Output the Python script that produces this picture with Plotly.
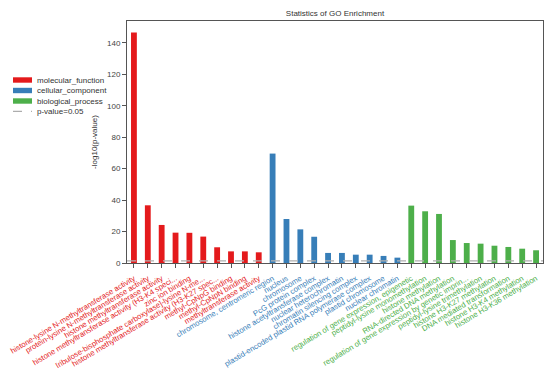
import math
import plotly.graph_objects as go

mf_terms = [
    "histone-lysine N-methyltransferase activity",
    "protein-lysine N-methyltransferase activity",
    "histone methyltransferase activity",
    "histone methyltransferase activity (H3-K4 speci...",
    "zinc ion binding",
    "[ribulose-bisphosphate carboxylase]-lysine N-me...",
    "histone methyltransferase activity (H3-K27 spec...",
    "methyl-CpNpG binding",
    "methyl-CpNpN binding",
    "methyltransferase activity",
]
mf_values = [146.6, 36.7, 24.2, 19.3, 19.2, 16.8, 10.0, 7.4, 7.4, 6.8]

cc_terms = [
    "chromosome, centromeric region",
    "nucleus",
    "chromosome",
    "PcG protein complex",
    "histone acetyltransferase complex",
    "nuclear heterochromatin",
    "chromatin silencing complex",
    "plastid-encoded plastid RNA polymerase complex",
    "plastid chromosome",
    "nuclear chromatin",
]
cc_values = [69.6, 28.0, 21.4, 16.7, 6.4, 6.4, 5.3, 5.3, 4.5, 3.4]

bp_terms = [
    "regulation of gene expression, epigenetic",
    "peptidyl-lysine monomethylation",
    "histone methylation",
    "RNA-directed DNA methylation",
    "regulation of gene expression by genetic imprin...",
    "peptidyl-lysine trimethylation",
    "histone H3-K27 methylation",
    "DNA mediated transformation",
    "histone H3-K4 methylation",
    "histone H3-K36 methylation",
]
bp_values = [36.5, 32.9, 31.2, 14.6, 12.7, 12.3, 11.0, 10.2, 9.1, 8.1]

p_cutoff = 0.05
colors = {"molecular_function": "#E41A1C", "cellular_component": "#377EB8",
          "biological_process": "#4DAF4A"}

groups = [("molecular_function", mf_terms, mf_values),
          ("cellular_component", cc_terms, cc_values),
          ("biological_process", bp_terms, bp_values)]

FONT = "Arial, Liberation Sans, sans-serif"
W, H = 550, 368
L, R, T, B = 127, 7, 21, 105
pw, ph = W - L - R, H - T - B

fig = go.Figure()
all_x, all_text = [], []
pos = 0
for name, terms, vals in groups:
    xs = list(range(pos, pos + len(terms)))
    fig.add_trace(go.Bar(x=xs, y=vals, name=name, marker_color=colors[name],
                         marker_line_width=0, width=0.42, showlegend=False))
    all_x += xs
    all_text += [f'<span style="color:{colors[name]}">{t}</span>' for t in terms]
    pos += len(terms)

ymax = max(mf_values + cc_values + bp_values) * 1.05
fig.add_shape(type="line", xref="paper", yref="y", x0=0, x1=1,
              y0=-math.log10(p_cutoff), y1=-math.log10(p_cutoff),
              line=dict(color="#b0b0b0", width=1.2, dash="dash"))

def px(x):
    return (x - L) / pw

def py(y):
    return (H - B - y) / ph

# legend drawn manually (compact spacing as in the reference)
legend_items = [("molecular_function", 80), ("cellular_component", 90.5),
                ("biological_process", 101)]
for name, yc in legend_items:
    fig.add_shape(type="rect", xref="paper", yref="paper",
                  x0=px(13), x1=px(32), y0=py(yc + 2.7), y1=py(yc - 2.7),
                  fillcolor=colors[name], line_width=0)
    fig.add_annotation(xref="paper", yref="paper", x=px(35), y=py(yc),
                       text=name, showarrow=False, xanchor="left",
                       yanchor="middle", font=dict(size=8, color="#333", family=FONT))
yc = 111.3
fig.add_shape(type="line", xref="paper", yref="paper", x0=px(13), x1=px(32),
              y0=py(yc), y1=py(yc), line=dict(color="#999", width=1, dash="dash"))
fig.add_annotation(xref="paper", yref="paper", x=px(35), y=py(yc),
                   text=f"p-value={p_cutoff}", showarrow=False, xanchor="left",
                   yanchor="middle", font=dict(size=8, color="#333", family=FONT))

fig.update_layout(
    width=W, height=H,
    margin=dict(l=L, r=R, t=T, b=B, autoexpand=False),
    paper_bgcolor="white", plot_bgcolor="white",
    font=dict(family=FONT, size=8, color="#333"),
    title=dict(text="Statistics of GO Enrichment", x=0.5 * (L + W - R) / W,
               xanchor="center", y=1 - 13 / H, yanchor="middle",
               font=dict(size=8, color="#333")),
    bargap=0.5,
)
fig.update_xaxes(
    range=[-0.5, pos - 0.5], tickmode="array", tickvals=all_x, ticktext=all_text,
    tickangle=-31, tickfont=dict(size=7.7), ticks="outside", ticklen=4,
    ticklabelstandoff=3,
    tickcolor="#555", showline=True, linecolor="#555", linewidth=1, mirror=True,
    showgrid=False, zeroline=False, automargin=False,
)
fig.update_yaxes(
    range=[0, ymax], tickmode="array", tickvals=list(range(0, 141, 20)),
    ticks="outside", ticklen=4, tickcolor="#555", tickfont=dict(size=8, color="#444"),
    showline=True, linecolor="#555", linewidth=1, mirror=True, showgrid=False,
    zeroline=False, automargin=False,
    title=dict(text="-log10(p-value)", font=dict(size=8, color="#333"), standoff=8),
)
fig.write_html("out.html", config={"displayModeBar": False},
               post_script="document.body.style.margin='0';document.body.style.padding='0';")
